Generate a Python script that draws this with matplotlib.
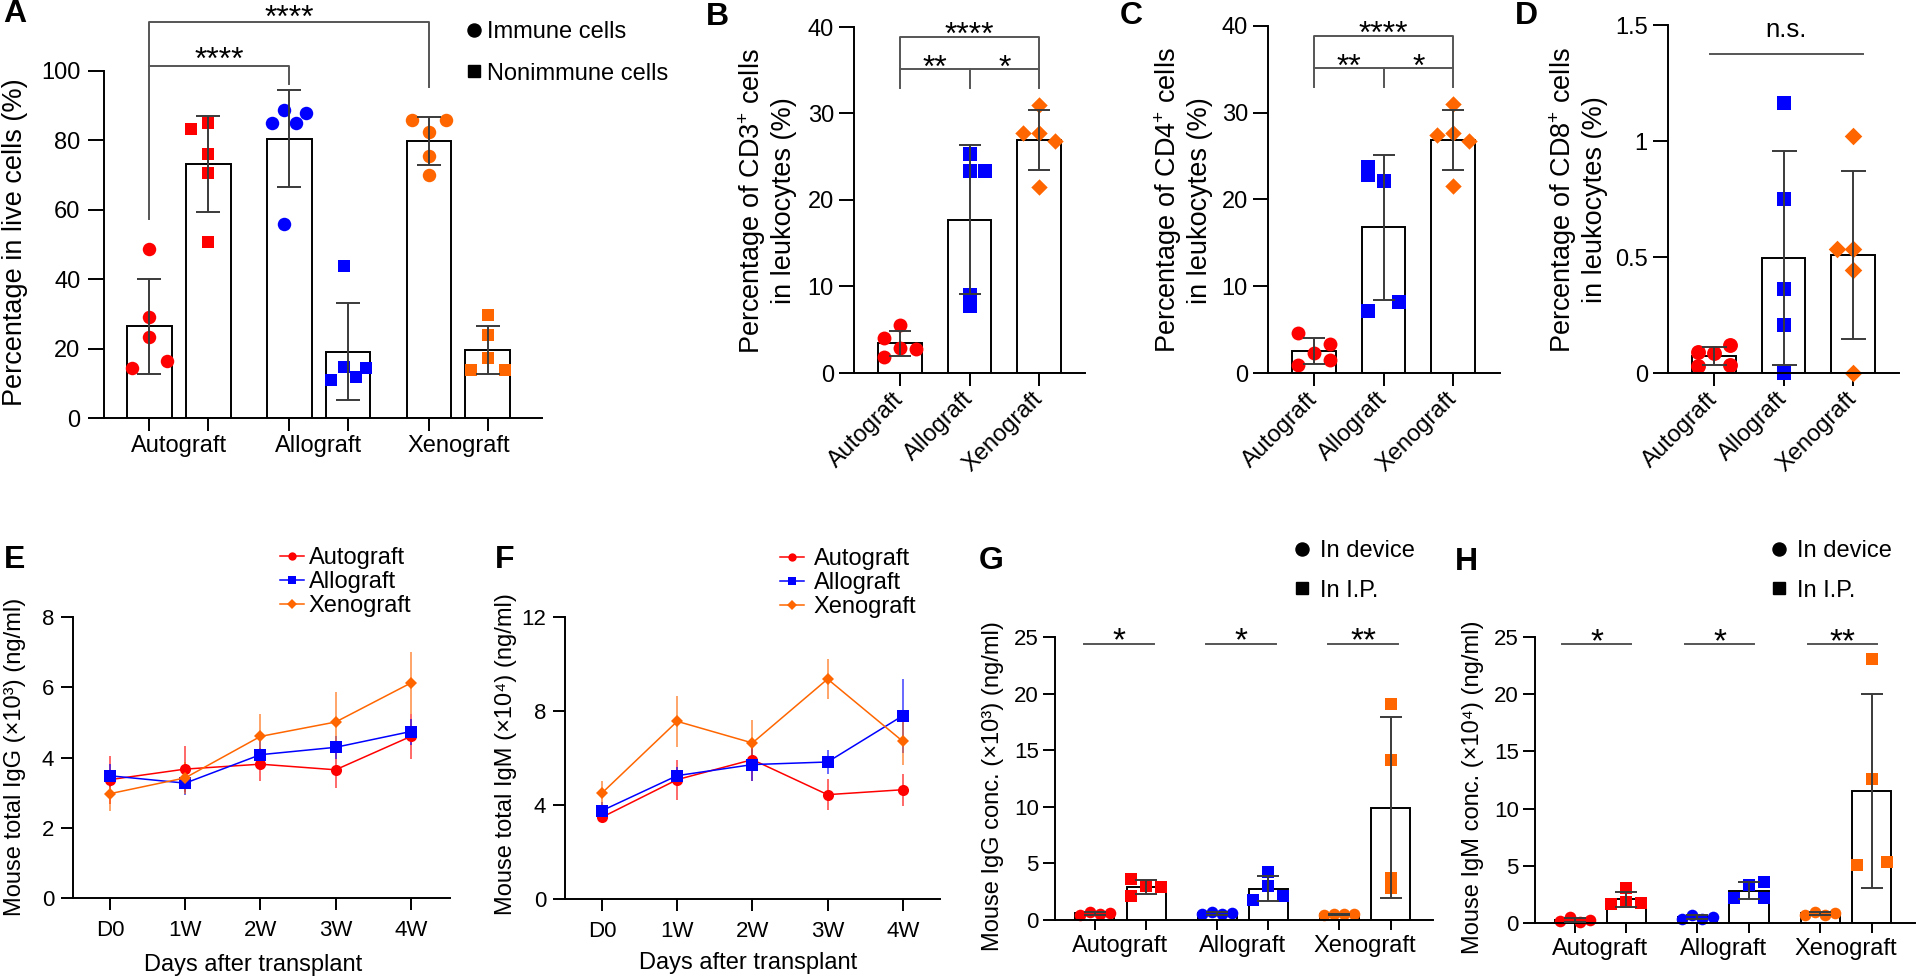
import numpy as np
import matplotlib.pyplot as plt
from matplotlib.lines import Line2D

plt.rcParams['font.family'] = ['Liberation Sans', 'DejaVu Sans']
plt.rcParams['mathtext.fontset'] = 'custom'
plt.rcParams['mathtext.rm'] = 'Liberation Sans'
plt.rcParams['mathtext.it'] = 'Liberation Sans:italic'
plt.rcParams['mathtext.bf'] = 'Liberation Sans:bold'
plt.rcParams['axes.linewidth'] = 1.4

W, H = 1920, 980
RED, BLUE, ORANGE = '#ff0000', '#0000ff', '#ff6600'
ERR = '#3a3a3a'
LINE = '#555555'
COLORS = [RED, BLUE, ORANGE]

groups = ['Autograft', 'Allograft', 'Xenograft']
weeks = ['D0', '1W', '2W', '3W', '4W']

# A: percentage in live cells (n=5)
a_immune = [[48.7, 29.3, 23.5, 14.6, 16.5],
            [85.1, 88.8, 85.1, 87.8, 55.9],
            [85.9, 85.9, 82.3, 75.6, 70.1]]
a_nonimmune = [[83.2, 85.1, 76.0, 70.7, 50.7],
               [43.9, 11.0, 14.7, 12.0, 14.4],
               [29.6, 24.0, 17.3, 13.9, 13.9]]
# B-D: T cell subsets in leukocytes (%)
b_cd3 = [[5.6, 4.0, 2.9, 2.8, 1.9],
         [25.3, 23.3, 23.35, 9.0, 7.7],
         [31.0, 27.7, 27.7, 26.8, 21.5]]
c_cd4 = [[4.6, 3.4, 2.3, 1.5, 0.96],
         [23.8, 22.8, 22.1, 8.2, 7.15],
         [31.0, 27.4, 27.7, 26.8, 21.5]]
d_cd8 = [[0.09, 0.086, 0.12, 0.03, 0.033],
         [1.162, 0.749, 0.364, 0.206, 0.0],
         [1.023, 0.536, 0.536, 0.446, 0.0]]
# E: total IgG (x10^3 ng/ml), mean and SD
e_auto = [3.37, 3.67, 3.81, 3.65, 4.60]
e_auto_sd = [0.68, 0.65, 0.47, 0.52, 0.64]
e_allo = [3.48, 3.27, 4.08, 4.29, 4.74]
e_allo_sd = [0.33, 0.33, 0.42, 0.32, 0.37]
e_xeno = [2.97, 3.42, 4.60, 5.01, 6.12]
e_xeno_sd = [0.48, 0.45, 0.64, 0.85, 0.87]
# F: total IgM (x10^4 ng/ml)
f_auto = [3.48, 5.08, 5.93, 4.44, 4.65]
f_auto_sd = [0.15, 0.85, 0.90, 0.67, 0.68]
f_allo = [3.76, 5.25, 5.72, 5.83, 7.80]
f_allo_sd = [0.35, 0.35, 0.70, 0.50, 1.57]
f_xeno = [4.51, 7.56, 6.64, 9.36, 6.71]
f_xeno_sd = [0.50, 1.09, 0.96, 0.87, 0.99]
# G/H: in device vs in I.P. (n=4)
g_device = [[0.45, 0.75, 0.5, 0.6], [0.5, 0.7, 0.5, 0.6], [0.45, 0.55, 0.5, 0.55]]
g_ip = [[3.6, 2.1, 3.0, 2.9], [4.2, 3.0, 1.76, 2.1], [19.1, 14.1, 3.7, 2.8]]
h_device = [[0.15, 0.5, 0.06, 0.3], [0.35, 0.73, 0.35, 0.52], [0.73, 1.0, 0.73, 0.87]]
h_ip = [[3.06, 1.8, 1.7, 1.75], [3.6, 3.35, 2.2, 2.2], [23.1, 12.6, 5.1, 5.3]]

# sideways placement of the dots (in dot widths)
a_imm_jit = [[0, 0, 0, -1, 1], [-1, -0.3, 0.4, 1, -0.3], [-1, 1, 0, 0, 0]]
a_non_jit = [[-1, 0, 0, 0, 0], [-0.25, -1, -0.25, 0.45, 1.05], [0, 0, 0, -1, 1]]
b_jit = [[0, -1, 0, 1, -1], [0, 0, 1, 0, 0], [0, -1, 0, 1, 0]]
c_jit = [[-1, 1, 0, 1, -1], [-1, -1, 0, 1, -1], [0, -1, 0, 1, 0]]
d_jit = [[-1, 0, 1, -1, 1], [0, 0, 0, 0, 0], [0, -1, 0, 0, 0]]
dev_jit = [-1, -0.33, 0.33, 1]
g_ip_jit = [[-1, -1, 0, 1], [0, 0, -1, 1], [0, 0, 0, 0]]
h_ip_jit = [[0, 0, -1, 1], [1, 0, -1, 1], [0, 0, -1, 1]]

fig = plt.figure(figsize=(19.2, 9.8), dpi=100)


def add_axes(left, right, y0, ytop):
    return fig.add_axes([left / W, 1 - y0 / H, (right - left) / W, (y0 - ytop) / H])


def frame(ax, xlim, ylim, yticks, ylen, xlen, size=16, ypad=4):
    ax.spines[['top', 'right']].set_visible(False)
    ax.set_xlim(*xlim)
    ax.set_ylim(*ylim)
    ax.set_yticks(yticks)
    ax.tick_params(axis='y', length=ylen, width=1.4, labelsize=size, pad=ypad)
    ax.tick_params(axis='x', which='major', length=xlen, width=1.4, labelsize=size)


def dot_bar(ax, x, vals, jit, spread, color, marker, s, width, cap):
    vals = np.asarray(vals, float)
    m, sd = vals.mean(), vals.std(ddof=1)
    ax.bar(x, m, width, color='white', edgecolor='black', linewidth=1.4, zorder=1)
    ax.scatter(x + np.asarray(jit) * spread, vals, s=s, color=color, marker=marker,
               linewidths=0, zorder=2, clip_on=False)
    ax.errorbar(x, m, yerr=sd, fmt='none', ecolor=ERR, elinewidth=1.4, capsize=cap,
                capthick=1.4, zorder=3)


def stars(ax, x, y, txt, dy, size=23):
    ax.annotate(txt, (x, y), xytext=(0, dy), textcoords='offset points', ha='center',
                va='baseline', fontsize=size, annotation_clip=False)


def ylab(ax, text, x, y, size):
    ax.set_ylabel(text, fontsize=size, va='center', ha='center', linespacing=1.15)
    ax.yaxis.set_label_coords(x, y)


def letter(x, y, s):
    fig.text(x / W, 1 - y / H, s, fontsize=23, fontweight='bold', ha='center', va='center')


pos = np.arange(3)

# ---------------- A ----------------
ax = add_axes(103.5, 541.5, 418.3, 71)
frame(ax, (-0.539, 2.594), (0, 100), [0, 20, 40, 60, 80, 100], 11.5, 9.5, size=17, ypad=5)
off = 0.21
for i, c in enumerate(COLORS):
    dot_bar(ax, i - off, a_immune[i], a_imm_jit[i], 0.122, c, 'o', 94, 0.32, 8.5)
    dot_bar(ax, i + off, a_nonimmune[i], a_non_jit[i], 0.122, c, 's', 85, 0.32, 8.5)
ax.set_xticks(np.concatenate([pos - off, pos + off]), [''] * 6)
ax.set_xticks(pos, groups, minor=True)
ax.tick_params(axis='x', which='minor', length=0, pad=12, labelsize=17)
xa, xb, xc = -off, 1 - off, 2 - off
ax.plot([xa, xa, xb, xb], [57.3, 101.4, 101.4, 96.4], color=LINE, lw=1.4, clip_on=False)
ax.plot([xa, xa, xc, xc], [101.4, 114, 114, 95.3], color=LINE, lw=1.4, clip_on=False)
stars(ax, (xa + xb) / 2, 101.4, '****', -2)
stars(ax, (xa + xc) / 2, 114, '****', -3.5)
ylab(ax, 'Percentage in live cells (%)', -0.202, 0.506, 19.5)
ax.legend([Line2D([], [], ls='none', marker='o', color='black', ms=9.4),
           Line2D([], [], ls='none', marker='s', color='black', ms=8.8)],
          ['Immune cells', 'Nonimmune cells'], loc='upper left',
          bbox_to_anchor=(467 / W, 1 - 21 / H), bbox_transform=fig.transFigure,
          frameon=False, fontsize=17, handlelength=0.6, handletextpad=0.25,
          labelspacing=0.83, borderpad=0, borderaxespad=0)
letter(15, 14, 'A')


# ---------------- B, C, D ----------------
def top_panel(box, tick0, data, jit, ylim, yticks, yticklabels, label, lab_x, sizes, cap):
    ax = add_axes(*box)
    frame(ax, ((box[0] - tick0) / 69.5, (box[1] - tick0) / 69.5), ylim, yticks, 10.5, 9.5,
          size=17, ypad=4)
    ax.set_yticklabels(yticklabels)
    for i, (c, mk) in enumerate(zip(COLORS, ['o', 's', 'D'])):
        dot_bar(ax, i, data[i], jit[i], 0.23, c, mk, sizes[i], 0.62, cap)
    ax.set_xticks(pos, groups, rotation=45, ha='right', va='center', rotation_mode='anchor')
    ax.tick_params(axis='x', pad=7)
    ylab(ax, label, lab_x, 0.497, 19.5)
    return ax


axb = top_panel((854, 1085, 373, 27), 900, b_cd3, b_jit, (0, 40), [0, 10, 20, 30, 40],
                ['0', '10', '20', '30', '40'], 'Percentage of CD3$^{+}$ cells\nin leukocytes (%)',
                -0.377, [100, 105, 70], 8)
axc = top_panel((1268, 1500, 373, 26), 1314, c_cd4, c_jit, (0, 40), [0, 10, 20, 30, 40],
                ['0', '10', '20', '30', '40'], 'Percentage of CD4$^{+}$ cells\nin leukocytes (%)',
                -0.37, [100, 105, 70], 8)
for a in (axb, axc):
    a.plot([0, 0, 2, 2], [33.0, 38.8, 38.8, 33.0], color=LINE, lw=1.4, clip_on=False)
    a.plot([0, 2], [35.2, 35.2], color=LINE, lw=1.4, clip_on=False)
    a.plot([1, 1], [35.2, 33.0], color=LINE, lw=1.4, clip_on=False)
    stars(a, 1, 38.8, '****', -5)
    stars(a, 0.5, 35.2, '**', -6)
    stars(a, 1.5, 35.2, '*', -6)

axd = top_panel((1668, 1899, 373, 25), 1714, d_cd8, d_jit, (0, 1.5), [0, 0.5, 1, 1.5],
                ['0', '0.5', '1', '1.5'], 'Percentage of CD8$^{+}$ cells\nin leukocytes (%)',
                -0.39, [115, 115, 80], 9)
axd.plot([-0.06, 2.14], [1.375, 1.375], color=LINE, lw=1.4, clip_on=False)
axd.annotate('n.s.', (1.04, 1.375), xytext=(0, 12), textcoords='offset points', ha='center',
             va='baseline', fontsize=18.5, annotation_clip=False)
letter(717, 17, 'B')
letter(1131, 16, 'C')
letter(1526, 16, 'D')


# ---------------- E, F ----------------
def line_panel(box, tick0, series, ylim, yticks, label, lab_xy, xlab_xy, leg_xy, leg_pad):
    ax = add_axes(*box)
    frame(ax, ((box[0] - tick0) / 75.2, (box[1] - tick0) / 75.2), ylim, yticks, 8.6, 8.6,
          size=16, ypad=5)
    x = np.arange(len(weeks))
    handles = []
    for (m, sd, c, mk, ms), name in zip(series, groups):
        eb = ax.errorbar(x, m, yerr=sd, color=c, marker=mk, ms=ms, mew=0, lw=1.1,
                         elinewidth=1.1, capsize=7, capthick=1.1, clip_on=False)
        for art in list(eb[1]) + list(eb[2]):
            art.set_alpha(0.75)
        handles.append(Line2D([], [], color=c, marker=mk, ms=ms * 0.75, mew=0, lw=1.1))
    ax.set_xticks(x, weeks)
    ax.tick_params(axis='x', pad=7)
    ylab(ax, label, lab_xy[0], lab_xy[1], 17)
    ax.set_xlabel('Days after transplant', fontsize=17, va='center')
    ax.xaxis.set_label_coords(*xlab_xy)
    ax.legend(handles, groups, loc='upper left', bbox_to_anchor=(leg_xy[0] / W, 1 - leg_xy[1] / H),
              bbox_transform=fig.transFigure, frameon=False, fontsize=17, handlelength=1.0,
              handletextpad=leg_pad, labelspacing=0.09, borderpad=0, borderaxespad=0)
    return ax


line_panel((73, 450, 898, 617), 110,
           [(e_auto, e_auto_sd, RED, 'o', 8), (e_allo, e_allo_sd, BLUE, 's', 8),
            (e_xeno, e_xeno_sd, ORANGE, 'D', 6.6)],
           (0, 8), [0, 2, 4, 6, 8], 'Mouse total IgG (×10³) (ng/ml)', (-0.154, 0.502),
           (0.477, -0.238), (280, 547), 0.21)
line_panel((565, 940, 899, 617), 602,
           [(f_auto, f_auto_sd, RED, 'o', 8), (f_allo, f_allo_sd, BLUE, 's', 8),
            (f_xeno, f_xeno_sd, ORANGE, 'D', 6.6)],
           (0, 12), [0, 4, 8, 12], 'Mouse total IgM (×10⁴) (ng/ml)', (-0.157, 0.514),
           (0.488, -0.227), (780, 548), 0.42)
letter(15, 560, 'E')
letter(505, 560, 'F')


# ---------------- G, H ----------------
def conc_panel(box, tick0, unit, device, ip, ip_jit, label, lab_xy, sig_span, leg_x, sig_dy):
    ax = add_axes(*box)
    frame(ax, ((box[0] - tick0) / unit, (box[1] - tick0) / unit), (0, 25), [0, 5, 10, 15, 20, 25],
          8.6, 7.2, size=16, ypad=3)
    for i, c in enumerate(COLORS):
        dot_bar(ax, i - off, device[i], dev_jit, 0.123, c, 'o', 70, 0.32, 8)
        dot_bar(ax, i + off, ip[i], ip_jit[i], 0.123, c, 's', 83, 0.32, 8)
    ax.set_xticks(np.concatenate([pos - off, pos + off]), [''] * 6)
    ax.set_xticks(pos, groups, minor=True)
    ax.tick_params(axis='x', which='minor', length=0, pad=11, labelsize=17)
    for i, s in enumerate(['*', '*', '**']):
        ax.plot([i + sig_span[0], i + sig_span[1]], [24.4, 24.4], color=LINE, lw=1.4,
                clip_on=False)
        stars(ax, i + (sig_span[0] + sig_span[1]) / 2, 24.4, s, sig_dy, size=24)
    ylab(ax, label, lab_xy[0], lab_xy[1], 17)
    ax.legend([Line2D([], [], ls='none', marker='o', color='black', ms=9.4),
               Line2D([], [], ls='none', marker='s', color='black', ms=8.8)],
              ['In device', 'In I.P.'], loc='upper left',
              bbox_to_anchor=(leg_x / W, 1 - 540 / H), bbox_transform=fig.transFigure,
              frameon=False, fontsize=17, handlelength=0.6, handletextpad=0.47,
              labelspacing=0.75, borderpad=0, borderaxespad=0)
    return ax


conc_panel((1055, 1433, 920, 637), 1120.5, 122.25, g_device, g_ip, g_ip_jit,
           'Mouse IgG conc. (×10³) (ng/ml)', (-0.164, 0.473), (-0.30, 0.27), 1295, -5)
conc_panel((1535, 1915, 923, 637), 1600.5, 122.75, h_device, h_ip, h_ip_jit,
           'Mouse IgM conc. (×10⁴) (ng/ml)', (-0.163, 0.476), (-0.31, 0.25), 1772, -5)
letter(991, 561, 'G')
letter(1466, 562, 'H')

fig.savefig('out.png', dpi=100)
